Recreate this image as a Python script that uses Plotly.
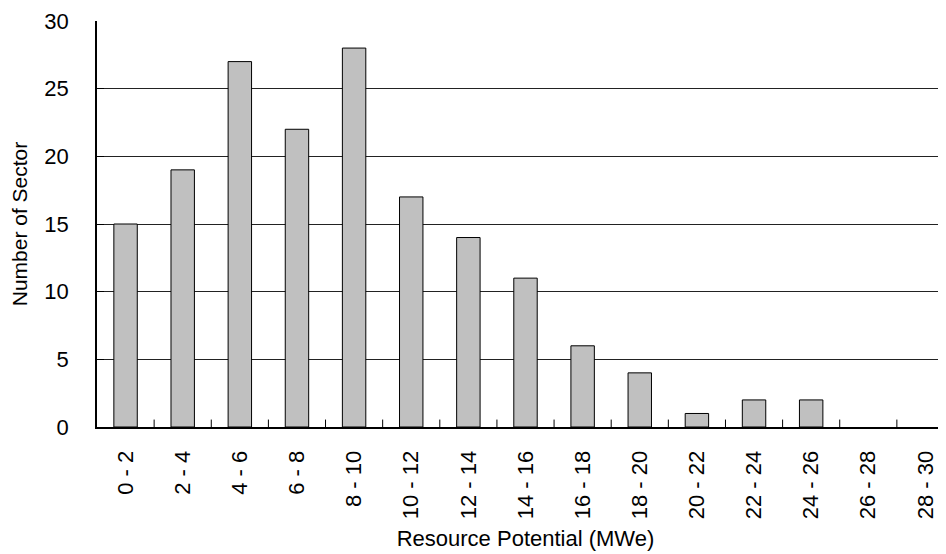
import plotly.graph_objects as go

categories = ["0 - 2", "2 - 4", "4 - 6", "6 - 8", "8 - 10", "10 - 12", "12 - 14",
              "14 - 16", "16 - 18", "18 - 20", "20 - 22", "22 - 24", "24 - 26",
              "26 - 28", "28 - 30"]
counts = [15, 19, 27, 22, 28, 17, 14, 11, 6, 4, 1, 2, 2, 0, 0]
y_ticks = [0, 5, 10, 15, 20, 25, 30]

fig = go.Figure(go.Bar(
    x=list(range(len(categories))), y=counts,
    width=0.41,
    marker=dict(color="#C0C0C0",
                line=dict(color="black", width=[1 if c > 0 else 0 for c in counts])),
))

font = "Liberation Sans, Arial, sans-serif"
fig.update_layout(
    width=946, height=554,
    margin=dict(l=89, r=0, t=13, b=135),
    plot_bgcolor="white", paper_bgcolor="white",
    showlegend=False,
    font=dict(family=font, color="black", size=22),
    xaxis=dict(
        range=[-0.5, 14.5],
        tickmode="array", tickvals=list(range(len(categories))), ticktext=categories,
        tickangle=-90, ticks="", showgrid=False,
        ticklabelstandoff=13,
        showline=True, linecolor="black", linewidth=2,
        tickfont=dict(size=22),
        title=dict(text="Resource Potential (MWe)", font=dict(size=22), standoff=12),
    ),
    yaxis=dict(
        range=[0, 30], tickmode="array", tickvals=y_ticks,
        showgrid=True, gridcolor="#222222", gridwidth=1,
        showline=True, linecolor="black", linewidth=1.5,
        ticks="inside", ticklen=7, tickcolor="black",
        ticklabelstandoff=22,
        tickfont=dict(size=22),
        zeroline=False,
        title=dict(text="Number of Sector", font=dict(size=21), standoff=12),
    ),
)

# category-boundary ticks on the x axis (inside)
for i in range(len(categories)):
    fig.add_shape(type="line", xref="x", yref="y",
                  x0=i + 0.5, x1=i + 0.5, y0=0, y1=0.55,
                  line=dict(color="black", width=1))

fig.write_html("out.html")
